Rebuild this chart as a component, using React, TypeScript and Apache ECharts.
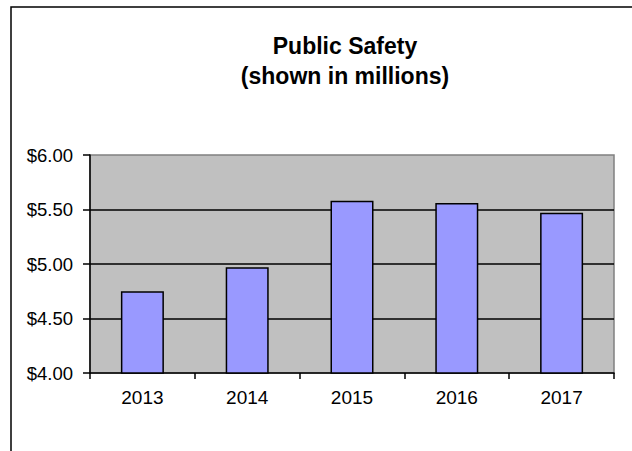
import React, { useEffect, useRef } from "react";
import * as echarts from "echarts";

const titleLines = ["Public Safety", "(shown in millions)"];
const years = ["2013", "2014", "2015", "2016", "2017"];
const values = [4.75, 4.97, 5.58, 5.56, 5.47];
const yMin = 4;
const yMax = 6;
const yStep = 0.5;

const FONT = "'Liberation Sans', Arial, sans-serif";

export default function App() {
  const ref = useRef<HTMLDivElement>(null);
  useEffect(() => {
    document.body.style.margin = "0";
    if (!ref.current) return;
    const chart = echarts.init(ref.current, null, { renderer: "svg" });
    chart.setOption({
      animation: false,
      backgroundColor: "#ffffff",
      textStyle: { fontFamily: FONT },
      graphic: [
        {
          type: "rect",
          shape: { x: 11, y: 7, width: 700, height: 500 },
          style: { fill: "none", stroke: "#000", lineWidth: 1.5 },
          silent: true,
        },
        {
          type: "text",
          x: 345,
          y: 46,
          style: {
            text: titleLines[0],
            font: `bold 23px ${FONT}`,
            fill: "#000",
            textAlign: "center",
            textVerticalAlign: "middle",
          },
        },
        {
          type: "text",
          x: 345,
          y: 76,
          style: {
            text: titleLines[1],
            font: `bold 23px ${FONT}`,
            fill: "#000",
            textAlign: "center",
            textVerticalAlign: "middle",
          },
        },
      ],
      grid: {
        left: 90,
        right: 18,
        top: 155,
        bottom: 78,
        show: true,
        backgroundColor: "#c0c0c0",
        borderColor: "#808080",
        borderWidth: 1.5,
      },
      xAxis: {
        type: "category",
        data: years,
        boundaryGap: true,
        axisLine: { show: true, lineStyle: { color: "#000", width: 1.5 } },
        axisTick: { show: true, inside: false, length: 6, alignWithLabel: false, lineStyle: { color: "#000", width: 1.5 } },
        axisLabel: { color: "#000", fontSize: 19, fontFamily: FONT, margin: 15 },
        splitLine: { show: false },
      },
      yAxis: {
        type: "value",
        min: yMin,
        max: yMax,
        interval: yStep,
        axisLine: { show: true, lineStyle: { color: "#000", width: 1.5 } },
        axisTick: { show: true, inside: false, length: 7, lineStyle: { color: "#000", width: 1.5 } },
        axisLabel: {
          color: "#000",
          fontSize: 18.5,
          fontFamily: FONT,
          margin: 17,
          formatter: (v: number) => "$" + v.toFixed(2),
        },
        splitLine: {
          show: true,
          showMinLine: false,
          showMaxLine: false,
          lineStyle: { color: "#000", width: 1.5 },
        },
      },
      series: [
        {
          type: "bar",
          data: values,
          barWidth: 43,
          itemStyle: { color: "#9999ff", borderColor: "#000", borderWidth: 1.5 },
        },
      ],
    });
    return () => chart.dispose();
  }, []);
  return <div ref={ref} style={{ width: 632, height: 451 }} />;
}
